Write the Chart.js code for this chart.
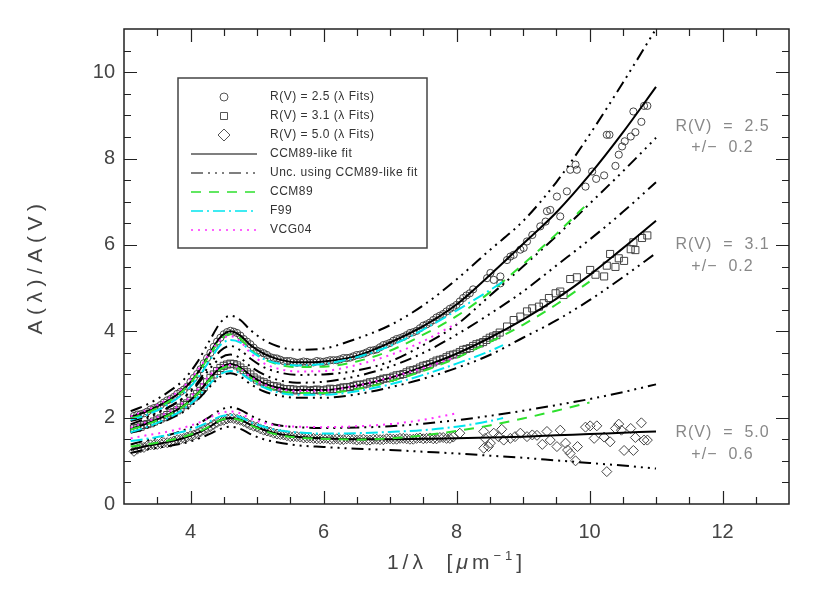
<!DOCTYPE html>
<html>
<head>
<meta charset="utf-8">
<script src="https://cdn.jsdelivr.net/npm/chart.js@4/dist/chart.umd.min.js"></script>
<style>
  html, body { margin: 0; padding: 0; background: #fff; }
</style>
</head>
<body>
<canvas id="chart" width="830" height="593"></canvas>
<script>
// x grid of the model curves (1/micron)
const fitX = [3.1, 3.3, 3.5, 3.7, 3.9, 4.1, 4.3, 4.45, 4.6, 4.75, 4.9, 5.1, 5.3, 5.6, 6.0, 6.5, 7.0, 7.5, 8.0, 8.5, 9.0, 9.5, 10.0, 10.5, 11.0];
const ccmX = fitX.slice(0, 23);           // CCM89 stops at 10
const vcgX = fitX.slice(0, 19);           // VCG04 stops at 8
const f99X = fitX.slice(0, 20).concat([8.7]);

// R(V) = 2.5
const fit25  = [2.02, 2.12, 2.26, 2.43, 2.66, 3.02, 3.52, 3.86, 4.00, 3.90, 3.68, 3.48, 3.36, 3.28, 3.30, 3.43, 3.74, 4.12, 4.62, 5.30, 6.02, 6.75, 7.62, 8.60, 9.66];
const hi25   = [2.15, 2.27, 2.43, 2.63, 2.88, 3.28, 3.82, 4.20, 4.36, 4.26, 4.03, 3.80, 3.66, 3.57, 3.60, 3.83, 4.14, 4.60, 5.20, 5.88, 6.55, 7.45, 8.55, 9.75, 11.0];
const lo25   = [1.92, 2.00, 2.12, 2.27, 2.47, 2.80, 3.25, 3.55, 3.66, 3.56, 3.37, 3.17, 3.06, 2.99, 3.00, 3.09, 3.30, 3.68, 4.15, 4.82, 5.50, 6.20, 6.95, 7.70, 8.48];
const ccm25  = [1.98, 2.08, 2.22, 2.40, 2.64, 3.00, 3.48, 3.80, 3.93, 3.83, 3.58, 3.36, 3.24, 3.17, 3.18, 3.30, 3.55, 3.92, 4.35, 4.90, 5.55, 6.25, 7.00];
const f9925  = [1.95, 2.04, 2.17, 2.34, 2.57, 2.90, 3.35, 3.68, 3.80, 3.74, 3.55, 3.36, 3.26, 3.21, 3.24, 3.40, 3.66, 4.04, 4.48, 4.95, 5.15];
const vcg25  = [2.03, 2.15, 2.29, 2.48, 2.72, 3.08, 3.52, 3.80, 3.89, 3.76, 3.50, 3.26, 3.14, 3.07, 3.08, 3.22, 3.45, 3.77, 4.18];

// R(V) = 3.1
const fit31  = [1.74, 1.84, 1.96, 2.10, 2.28, 2.55, 2.92, 3.16, 3.24, 3.16, 2.98, 2.80, 2.70, 2.64, 2.64, 2.74, 2.92, 3.18, 3.48, 3.85, 4.27, 4.75, 5.30, 5.92, 6.56];
const hi31   = [1.85, 1.96, 2.10, 2.26, 2.46, 2.76, 3.15, 3.38, 3.46, 3.38, 3.19, 3.00, 2.88, 2.81, 2.83, 2.96, 3.18, 3.50, 3.92, 4.40, 4.92, 5.52, 6.12, 6.76, 7.45];
const lo31   = [1.65, 1.74, 1.85, 1.98, 2.14, 2.40, 2.73, 2.95, 3.03, 2.95, 2.78, 2.61, 2.52, 2.46, 2.46, 2.54, 2.70, 2.90, 3.15, 3.45, 3.85, 4.25, 4.72, 5.25, 5.81];
const ccm31  = [1.72, 1.82, 1.94, 2.08, 2.27, 2.54, 2.90, 3.12, 3.20, 3.12, 2.93, 2.74, 2.63, 2.57, 2.57, 2.66, 2.84, 3.08, 3.38, 3.75, 4.15, 4.62, 5.15];
const f9931  = [1.66, 1.76, 1.88, 2.02, 2.20, 2.46, 2.80, 3.01, 3.08, 3.03, 2.87, 2.70, 2.59, 2.53, 2.53, 2.61, 2.77, 2.99, 3.25, 3.54, 3.68];
const vcg31  = [1.77, 1.88, 2.01, 2.16, 2.36, 2.64, 3.00, 3.18, 3.22, 3.13, 2.95, 2.77, 2.67, 2.62, 2.63, 2.74, 2.93, 3.15, 3.41];

// R(V) = 5.0
const fit50  = [1.25, 1.33, 1.39, 1.45, 1.53, 1.64, 1.80, 1.94, 1.99, 1.95, 1.84, 1.72, 1.63, 1.56, 1.52, 1.50, 1.50, 1.51, 1.52, 1.54, 1.56, 1.59, 1.62, 1.65, 1.68];
const hi50   = [1.38, 1.46, 1.53, 1.61, 1.71, 1.84, 2.03, 2.18, 2.24, 2.18, 2.05, 1.92, 1.83, 1.78, 1.76, 1.77, 1.80, 1.86, 1.94, 2.04, 2.16, 2.29, 2.43, 2.59, 2.77];
const lo50   = [1.18, 1.25, 1.30, 1.35, 1.41, 1.50, 1.63, 1.74, 1.79, 1.74, 1.62, 1.50, 1.43, 1.36, 1.32, 1.28, 1.25, 1.21, 1.17, 1.12, 1.07, 1.01, 0.95, 0.89, 0.82];
const ccm50  = [1.33, 1.37, 1.42, 1.48, 1.56, 1.66, 1.81, 1.94, 1.98, 1.94, 1.83, 1.70, 1.61, 1.54, 1.51, 1.49, 1.52, 1.59, 1.69, 1.82, 1.98, 2.16, 2.35];
const f9950  = [1.46, 1.50, 1.55, 1.61, 1.68, 1.78, 1.92, 2.03, 2.06, 2.01, 1.90, 1.79, 1.71, 1.66, 1.63, 1.64, 1.67, 1.71, 1.79, 1.92, 1.99];
const vcg50  = [1.52, 1.58, 1.63, 1.69, 1.77, 1.87, 2.01, 2.11, 2.14, 2.10, 1.98, 1.88, 1.82, 1.79, 1.78, 1.80, 1.85, 1.95, 2.10];

// lambda fits (the measured points)
const circleX = [3.15, 3.25, 3.35, 3.45, 3.55, 3.65, 3.75, 3.85, 3.95, 4.05, 4.15, 4.25, 4.35, 4.45, 4.55, 4.65, 4.75, 4.85, 4.95, 5.05,
  5.15, 5.25, 5.35, 5.45, 5.55, 5.65, 5.75, 5.85, 5.95, 6.05, 6.15, 6.25, 6.35, 6.45, 6.55, 6.65, 6.75, 6.85, 6.95, 7.05,
  7.15, 7.25, 7.35, 7.45, 7.55, 7.65, 7.75, 7.85, 7.95, 8.05, 8.15, 8.25,
  8.46, 8.51, 8.56, 8.66, 8.66, 8.76, 8.81, 8.86, 8.96, 9.01, 9.06, 9.14, 9.26, 9.34, 9.36, 9.41, 9.51, 9.56, 9.66, 9.71,
  9.79, 9.81, 9.94, 10.04, 10.10, 10.22, 10.26, 10.30, 10.39, 10.44, 10.49, 10.53, 10.62, 10.66, 10.69, 10.78, 10.82, 10.87];
const circleY = [2.04, 2.08, 2.14, 2.22, 2.29, 2.40, 2.48, 2.60, 2.72, 2.92, 3.12, 3.38, 3.64, 3.85, 3.98, 3.99, 3.90, 3.76, 3.62, 3.52,
  3.45, 3.38, 3.34, 3.31, 3.29, 3.28, 3.29, 3.28, 3.30, 3.31, 3.33, 3.35, 3.38, 3.42, 3.46, 3.51, 3.56, 3.63, 3.70, 3.78,
  3.84, 3.91, 3.98, 4.07, 4.16, 4.26, 4.36, 4.46, 4.56, 4.69, 4.83, 4.97,
  5.23, 5.35, 5.19, 5.27, 5.11, 5.65, 5.73, 5.77, 5.89, 5.93, 6.08, 6.23, 6.43, 6.54, 6.78, 6.81, 7.12, 6.66, 7.24, 7.74,
  7.86, 7.74, 7.35, 7.70, 7.53, 7.61, 8.55, 8.55, 7.83, 8.09, 8.28, 8.40, 8.51, 9.09, 8.61, 8.85, 9.22, 9.22];
const circleX2 = [3.2, 3.3, 3.4, 3.5, 3.6, 3.7, 3.8, 3.9, 4.0, 4.1, 4.2, 4.3, 4.4, 4.5, 4.6, 4.7, 4.8, 4.9, 5.0,
  5.1, 5.2, 5.3, 5.4, 5.5, 5.6, 5.7, 5.8, 5.9, 6.0, 6.1, 6.2, 6.3, 6.4, 6.5, 6.6, 6.7, 6.8, 6.9, 7.0,
  7.1, 7.2, 7.3, 7.4, 7.5, 7.6, 7.7, 7.8, 7.9, 8.0, 8.1, 8.2];
const circleY2 = [2.07, 2.10, 2.19, 2.24, 2.35, 2.43, 2.55, 2.65, 2.83, 3.01, 3.26, 3.50, 3.76, 3.93, 4.01, 3.96, 3.82, 3.70, 3.55,
  3.49, 3.40, 3.37, 3.31, 3.31, 3.27, 3.30, 3.27, 3.31, 3.29, 3.33, 3.33, 3.38, 3.39, 3.45, 3.48, 3.55, 3.58, 3.68, 3.73,
  3.82, 3.87, 3.96, 4.01, 4.13, 4.20, 4.32, 4.40, 4.52, 4.61, 4.77, 4.88];

const squareX = [3.15, 3.25, 3.35, 3.45, 3.55, 3.65, 3.75, 3.85, 3.95, 4.05, 4.15, 4.25, 4.35, 4.45, 4.55, 4.65, 4.75, 4.85, 4.95, 5.05,
  5.15, 5.25, 5.35, 5.45, 5.55, 5.65, 5.75, 5.85, 5.95, 6.05, 6.15, 6.25, 6.35, 6.45, 6.55, 6.65, 6.75, 6.85, 6.95, 7.05,
  7.15, 7.25, 7.35, 7.45, 7.55, 7.65, 7.75, 7.85, 7.95, 8.05, 8.15, 8.25, 8.35, 8.45, 8.55, 8.65,
  8.76, 8.86, 8.96, 9.06, 9.14, 9.24, 9.31, 9.39, 9.49, 9.56, 9.61, 9.71, 9.81, 10.01, 10.09, 10.22, 10.26, 10.31, 10.39, 10.44,
  10.52, 10.62, 10.66, 10.69, 10.79, 10.87];
const squareY = [1.75, 1.79, 1.85, 1.91, 1.98, 2.06, 2.13, 2.23, 2.33, 2.47, 2.62, 2.82, 3.00, 3.15, 3.23, 3.24, 3.16, 3.05, 2.93, 2.84,
  2.78, 2.73, 2.69, 2.66, 2.65, 2.64, 2.63, 2.64, 2.63, 2.65, 2.66, 2.68, 2.70, 2.73, 2.76, 2.79, 2.83, 2.87, 2.91, 2.95,
  2.99, 3.05, 3.10, 3.16, 3.22, 3.28, 3.34, 3.40, 3.46, 3.52, 3.59, 3.66, 3.72, 3.80, 3.88, 3.97,
  4.11, 4.26, 4.34, 4.46, 4.53, 4.57, 4.65, 4.77, 4.88, 4.92, 4.84, 5.21, 5.25, 5.42, 5.31, 5.27, 5.52, 5.79, 5.49, 5.69,
  5.63, 5.90, 6.06, 5.88, 6.16, 6.22];
const squareX2 = [3.2, 3.3, 3.4, 3.5, 3.6, 3.7, 3.8, 3.9, 4.0, 4.1, 4.2, 4.3, 4.4, 4.5, 4.6, 4.7, 4.8, 4.9, 5.0,
  5.1, 5.2, 5.3, 5.4, 5.5, 5.6, 5.7, 5.8, 5.9, 6.0, 6.1, 6.2, 6.3, 6.4, 6.5, 6.6, 6.7, 6.8, 6.9, 7.0,
  7.1, 7.2, 7.3, 7.4, 7.5, 7.6, 7.7, 7.8, 7.9, 8.0, 8.1, 8.2, 8.3, 8.4, 8.5, 8.6];
const squareY2 = [1.76, 1.83, 1.87, 1.95, 2.01, 2.10, 2.17, 2.29, 2.39, 2.55, 2.71, 2.92, 3.08, 3.20, 3.25, 3.21, 3.10, 3.00, 2.88,
  2.82, 2.74, 2.72, 2.66, 2.66, 2.63, 2.65, 2.62, 2.65, 2.63, 2.67, 2.66, 2.70, 2.71, 2.76, 2.77, 2.82, 2.84, 2.90, 2.92,
  2.98, 3.01, 3.09, 3.12, 3.20, 3.24, 3.32, 3.36, 3.44, 3.48, 3.57, 3.61, 3.70, 3.75, 3.85, 3.91];

const diamondX = [3.15, 3.25, 3.35, 3.45, 3.55, 3.65, 3.75, 3.85, 3.95, 4.05, 4.15, 4.25, 4.35, 4.45, 4.55, 4.65, 4.75, 4.85, 4.95, 5.05,
  5.15, 5.25, 5.35, 5.45, 5.55, 5.65, 5.75, 5.85, 5.95, 6.05, 6.15, 6.25, 6.35, 6.45, 6.55, 6.65, 6.75, 6.85, 6.95, 7.05,
  7.15, 7.25, 7.35, 7.45, 7.55, 7.65, 7.75, 7.85, 7.95,
  8.05, 8.41, 8.43, 8.48, 8.51, 8.41, 8.56, 8.63, 8.68, 8.71, 8.81, 8.88, 8.96, 9.06, 9.14, 9.21, 9.29, 9.36, 9.41, 9.51,
  9.56, 9.64, 9.67, 9.71, 9.79, 9.82, 9.94, 10.01, 10.07, 10.11, 10.22, 10.26, 10.31, 10.39, 10.44, 10.48, 10.52, 10.62, 10.66, 10.69,
  10.78, 10.82, 10.87];
const diamondY = [1.22, 1.30, 1.35, 1.37, 1.40, 1.42, 1.46, 1.50, 1.55, 1.60, 1.67, 1.75, 1.84, 1.92, 1.97, 1.98, 1.94, 1.87, 1.80, 1.74,
  1.69, 1.64, 1.61, 1.58, 1.56, 1.55, 1.53, 1.52, 1.51, 1.52, 1.50, 1.49, 1.51, 1.50, 1.49, 1.48, 1.50, 1.49, 1.51, 1.50,
  1.52, 1.51, 1.50, 1.53, 1.52, 1.51, 1.54, 1.52, 1.55,
  1.64, 1.68, 1.52, 1.33, 1.41, 1.29, 1.64, 1.56, 1.73, 1.48, 1.52, 1.56, 1.64, 1.56, 1.60, 1.59, 1.38, 1.68, 1.48, 1.33,
  1.71, 1.41, 1.25, 1.17, 1.00, 1.33, 1.78, 1.81, 1.52, 1.81, 1.55, 0.75, 1.44, 1.75, 1.85, 1.71, 1.24, 1.75, 1.24, 1.54,
  1.88, 1.48, 1.48];
const diamondX2 = [3.2, 3.3, 3.4, 3.5, 3.6, 3.7, 3.8, 3.9, 4.0, 4.1, 4.2, 4.3, 4.4, 4.5, 4.6, 4.7, 4.8, 4.9, 5.0,
  5.1, 5.2, 5.3, 5.4, 5.5, 5.6, 5.7, 5.8, 5.9, 6.0, 6.1, 6.2, 6.3, 6.4, 6.5, 6.6, 6.7, 6.8, 6.9, 7.0,
  7.1, 7.2, 7.3, 7.4, 7.5, 7.6, 7.7, 7.8, 7.9];
const diamondY2 = [1.27, 1.31, 1.37, 1.38, 1.42, 1.43, 1.49, 1.52, 1.58, 1.63, 1.72, 1.79, 1.89, 1.94, 1.99, 1.96, 1.91, 1.83, 1.78,
  1.71, 1.67, 1.62, 1.60, 1.56, 1.56, 1.53, 1.53, 1.51, 1.52, 1.50, 1.51, 1.49, 1.51, 1.48, 1.50, 1.48, 1.50, 1.49, 1.51,
  1.50, 1.52, 1.50, 1.52, 1.51, 1.53, 1.51, 1.54, 1.52];

// axis ticks
const xMajorTicks = [4, 6, 8, 10, 12];
const yMajorTicks = [0, 2, 4, 6, 8, 10];

// side notes, placed at (x, y) in data units
const sideNotes = [
  { x: 12, y: 8.75, text: 'R(V)  =  2.5' }, { x: 12, y: 8.25, text: '+/−  0.2' },
  { x: 12, y: 6.0, text: 'R(V)  =  3.1' }, { x: 12, y: 5.5, text: '+/−  0.2' },
  { x: 12, y: 1.65, text: 'R(V)  =  5.0' }, { x: 12, y: 1.15, text: '+/−  0.6' }
];

const legendOrder = ['R(V) = 2.5 (λ Fits)', 'R(V) = 3.1 (λ Fits)', 'R(V) = 5.0 (λ Fits)',
  'CCM89-like fit', 'Unc. using CCM89-like fit', 'CCM89', 'F99', 'VCG04'];

function pts(xs, ys) {
    return xs.map((x, i) => ({ x: x, y: ys[i] }));
}

const styles = {
    fit: { label: 'CCM89-like fit', borderColor: '#000', borderDash: [] },
    unc: { label: 'Unc. using CCM89-like fit', borderColor: '#000', borderDash: [12, 5, 2, 5, 2, 5, 2, 5] },
    ccm: { label: 'CCM89', borderColor: '#2ee02e', borderDash: [10, 8] },
    f99: { label: 'F99', borderColor: '#00e5ee', borderDash: [12, 4, 2, 4] },
    vcg: { label: 'VCG04', borderColor: '#ff30ff', borderDash: [2, 5] }
};

function lineSet(kind, xs, ys) {
    const s = styles[kind];
    return {
        label: s.label,
        data: pts(xs, ys),
        showLine: true,
        borderColor: s.borderColor,
        borderDash: s.borderDash,
        borderWidth: 2,
        pointRadius: 0,
        cubicInterpolationMode: 'monotone',
        order: 1
    };
}

function markerSet(label, style, radius, data) {
    return {
        label: label,
        data: data,
        showLine: false,
        pointStyle: style,
        pointRadius: radius,
        pointBorderColor: '#444',
        pointBackgroundColor: 'rgba(0,0,0,0)',
        pointBorderWidth: 1,
        order: 2
    };
}

const datasets = [
    markerSet('R(V) = 2.5 (λ Fits)', 'circle', 3.6, pts(circleX, circleY).concat(pts(circleX2, circleY2))),
    markerSet('R(V) = 3.1 (λ Fits)', 'rect', 5, pts(squareX, squareY).concat(pts(squareX2, squareY2))),
    markerSet('R(V) = 5.0 (λ Fits)', 'rectRot', 5, pts(diamondX, diamondY).concat(pts(diamondX2, diamondY2))),
    lineSet('vcg', vcgX, vcg25), lineSet('vcg', vcgX, vcg31), lineSet('vcg', vcgX, vcg50),
    lineSet('f99', f99X, f9925), lineSet('f99', f99X, f9931), lineSet('f99', f99X, f9950),
    lineSet('ccm', ccmX, ccm25), lineSet('ccm', ccmX, ccm31), lineSet('ccm', ccmX, ccm50),
    lineSet('unc', fitX, hi25), lineSet('unc', fitX, lo25),
    lineSet('unc', fitX, hi31), lineSet('unc', fitX, lo31),
    lineSet('unc', fitX, hi50), lineSet('unc', fitX, lo50),
    lineSet('fit', fitX, fit25), lineSet('fit', fitX, fit31), lineSet('fit', fitX, fit50)
];

// draw a marker shape by hand (legend only)
function drawMarker(ctx, style, x, y, r) {
    ctx.beginPath();
    if (style === 'circle') {
        ctx.arc(x, y, r, 0, Math.PI * 2);
    } else if (style === 'rect') {
        ctx.rect(x - r, y - r, 2 * r, 2 * r);
    } else {
        ctx.moveTo(x, y - r); ctx.lineTo(x + r, y); ctx.lineTo(x, y + r); ctx.lineTo(x - r, y); ctx.closePath();
    }
    ctx.stroke();
}

const decorations = {
    id: 'decorations',
    afterDatasetsDraw(chart) {
        const ctx = chart.ctx;
        const xs = chart.scales.x, ys = chart.scales.y;
        const a = chart.chartArea;
        ctx.save();

        // frame
        ctx.strokeStyle = '#222';
        ctx.lineWidth = 1.5;
        ctx.setLineDash([]);
        ctx.strokeRect(a.left, a.top, a.right - a.left, a.bottom - a.top);

        // inward ticks on all four sides
        ctx.lineWidth = 1.2;
        ctx.beginPath();
        for (let v = 3.5; v < 13; v += 0.5) {
            const px = Math.round(xs.getPixelForValue(v)) + 0.5;
            const len = xMajorTicks.includes(v) ? 13 : 7;
            ctx.moveTo(px, a.bottom); ctx.lineTo(px, a.bottom - len);
            ctx.moveTo(px, a.top); ctx.lineTo(px, a.top + len);
        }
        for (let v = 0.5; v < 11; v += 0.5) {
            const py = Math.round(ys.getPixelForValue(v)) + 0.5;
            const len = yMajorTicks.includes(v) ? 13 : 7;
            ctx.moveTo(a.left, py); ctx.lineTo(a.left + len, py);
            ctx.moveTo(a.right, py); ctx.lineTo(a.right - len, py);
        }
        ctx.stroke();

        // legend box
        const box = { left: 178, top: 78, right: 427, bottom: 248 };
        ctx.fillStyle = '#fff';
        ctx.fillRect(box.left, box.top, box.right - box.left, box.bottom - box.top);
        ctx.strokeStyle = '#444';
        ctx.lineWidth = 1.5;
        ctx.strokeRect(box.left, box.top, box.right - box.left, box.bottom - box.top);

        ctx.font = '12px "Liberation Sans", Arial, sans-serif';
        ctx.textBaseline = 'middle';
        ctx.textAlign = 'left';
        ctx.letterSpacing = '0.5px';
        legendOrder.forEach((label, i) => {
            const ds = chart.data.datasets.find(d => d.label === label);
            const y = 97 + i * 19;
            if (ds.showLine) {
                ctx.strokeStyle = ds.borderColor === '#000' ? '#555' : ds.borderColor;
                ctx.lineWidth = 1.5;
                ctx.setLineDash(ds.borderDash);
                ctx.beginPath();
                ctx.moveTo(191, y); ctx.lineTo(257, y);
                ctx.stroke();
                ctx.setLineDash([]);
            } else {
                ctx.strokeStyle = '#555';
                ctx.lineWidth = 1;
                const r = ds.pointStyle === 'rectRot' ? 6 : (ds.pointStyle === 'rect' ? 3.5 : 4);
                drawMarker(ctx, ds.pointStyle, 224, y, r);
            }
            ctx.fillStyle = '#333';
            ctx.fillText(label, 270, y);
        });

        // side notes
        ctx.font = '16px "Liberation Sans", Arial, sans-serif';
        ctx.fillStyle = '#888';
        ctx.textAlign = 'center';
        ctx.letterSpacing = '1px';
        sideNotes.forEach(n => {
            ctx.fillText(n.text, xs.getPixelForValue(n.x), ys.getPixelForValue(n.y));
        });

        // axis titles
        ctx.fillStyle = '#444';
        ctx.letterSpacing = '5.5px';
        ctx.font = '21px "Liberation Sans", Arial, sans-serif';
        ctx.save();
        ctx.translate(36, (a.top + a.bottom) / 2);
        ctx.rotate(-Math.PI / 2);
        ctx.textAlign = 'center';
        ctx.fillText('A(λ)/A(V)', 0, 0);
        ctx.restore();

        ctx.letterSpacing = '4px';
        const pieces = [
            { text: '1/λ  [', font: '21px "Liberation Sans", Arial, sans-serif', dy: 0 },
            { text: 'μ', font: 'italic 21px "Liberation Sans", Arial, sans-serif', dy: 0 },
            { text: 'm', font: '21px "Liberation Sans", Arial, sans-serif', dy: 0 },
            { text: '−1', font: '13px "Liberation Sans", Arial, sans-serif', dy: -9 },
            { text: ']', font: '21px "Liberation Sans", Arial, sans-serif', dy: 0 }
        ];
        ctx.textAlign = 'left';
        ctx.textBaseline = 'alphabetic';
        let total = 0;
        pieces.forEach(p => { ctx.font = p.font; total += ctx.measureText(p.text).width; });
        let tx = (a.left + a.right) / 2 - total / 2;
        pieces.forEach(p => {
            ctx.font = p.font;
            ctx.fillText(p.text, tx, 569 + p.dy);
            tx += ctx.measureText(p.text).width;
        });
        ctx.restore();
    }
};

new Chart(document.getElementById('chart').getContext('2d'), {
    type: 'scatter',
    data: { datasets: datasets },
    options: {
        responsive: false,
        animation: false,
        devicePixelRatio: 1,
        layout: { padding: { left: 0, right: 41, top: 29, bottom: 0 } },
        plugins: { legend: { display: false }, tooltip: { enabled: false } },
        scales: {
            x: {
                type: 'linear',
                min: 3, max: 13,
                border: { display: false },
                grid: { display: false, drawTicks: false },
                afterBuildTicks: scale => { scale.ticks = xMajorTicks.map(v => ({ value: v })); },
                afterFit: scale => { scale.height = 89; },
                ticks: {
                    padding: 16,
                    color: '#444',
                    font: { family: '"Liberation Sans", Arial, sans-serif', size: 20 }
                }
            },
            y: {
                type: 'linear',
                min: 0, max: 11,
                border: { display: false },
                grid: { display: false, drawTicks: false },
                afterBuildTicks: scale => { scale.ticks = yMajorTicks.map(v => ({ value: v })); },
                afterFit: scale => { scale.width = 124; },
                ticks: {
                    padding: 9,
                    color: '#444',
                    font: { family: '"Liberation Sans", Arial, sans-serif', size: 20 }
                }
            }
        }
    },
    plugins: [decorations]
});
</script>
</body>
</html>
